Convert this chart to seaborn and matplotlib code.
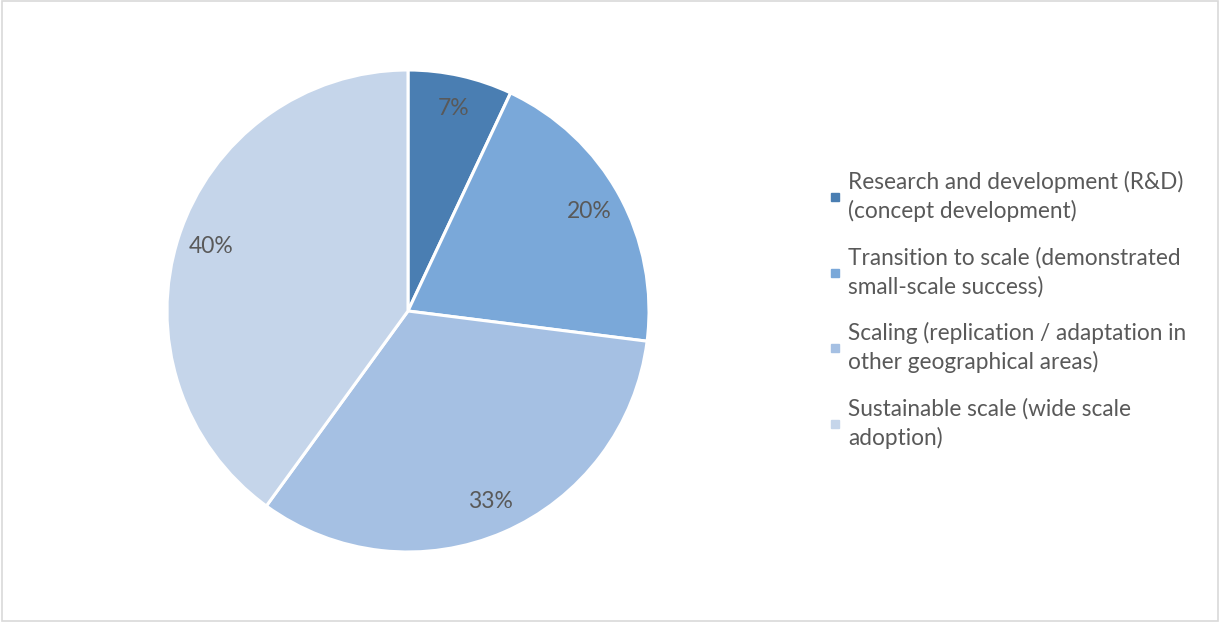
import matplotlib
matplotlib.use("Agg")
import matplotlib.pyplot as plt
import matplotlib.lines as mlines
import matplotlib.patches as mpatches
import seaborn as sns

# data
stages = [
    "Research and development (R&D)\n(concept development)",
    "Transition to scale (demonstrated\nsmall-scale success)",
    "Scaling (replication / adaptation in\nother geographical areas)",
    "Sustainable scale (wide scale\nadoption)",
]
shares = [7, 20, 33, 40]
colors = ["#4A7EB2", "#7AA8D9", "#A5C0E3", "#C5D5EA"]

sns.set_theme(style="white")
plt.rcParams["font.family"] = ["Lato", "DejaVu Sans"]
text_color = "#595959"

fig = plt.figure(figsize=(12.2, 6.22), dpi=100)
ax = fig.add_axes([167 / 1220, 70 / 622, 482 / 1220, 482 / 622])

wedges, texts, autotexts = ax.pie(
    shares,
    colors=colors,
    startangle=90,
    counterclock=False,
    autopct=lambda p: f"{p:.0f}%",
    pctdistance=0.86,
    wedgeprops=dict(edgecolor="white", linewidth=2.2),
    textprops=dict(color=text_color, fontsize=16.5),
)
ax.set_xlim(-1, 1)
ax.set_ylim(-1, 1)
ax.set_aspect("equal")

handles = [
    mlines.Line2D([], [], marker="s", linestyle="none", markersize=6,
                  markerfacecolor=c, markeredgecolor=c)
    for c in colors
]
leg = fig.legend(
    handles, stages,
    loc="center left", bbox_to_anchor=(812 / 1220, 0.502),
    frameon=False, fontsize=16.3, labelcolor=text_color,
    handletextpad=0.1, handlelength=1.0, labelspacing=1.08, borderpad=0,
)
for t in leg.get_texts():
    t.set_linespacing(1.42)

# thin grey border around the chart area
fig.patches.append(mpatches.Rectangle(
    (0.002, 0.002), 0.996, 0.996, transform=fig.transFigure,
    fill=False, edgecolor="#D9D9D9", linewidth=1.2))

fig.savefig("out.png", dpi=100, facecolor="white")
